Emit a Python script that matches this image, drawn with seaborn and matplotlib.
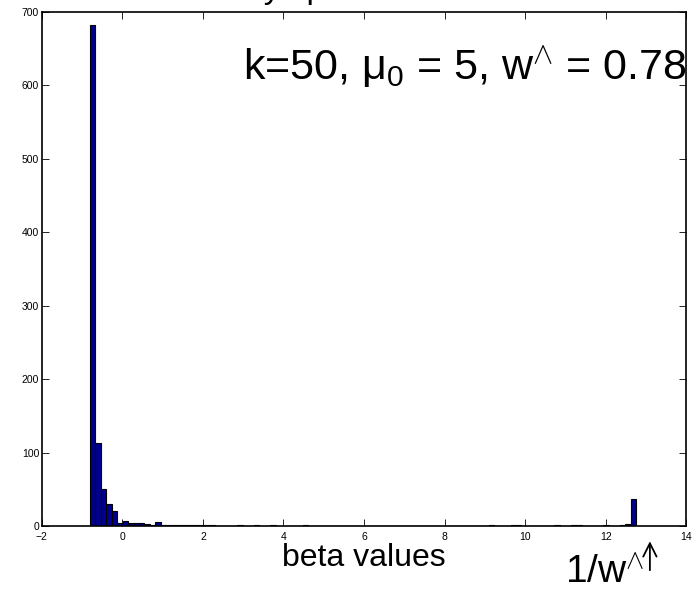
import numpy as np
import pandas as pd
import matplotlib
matplotlib.use('agg')
import seaborn as sns
import matplotlib.pyplot as plt

# histogram of sampled beta values: 100 bins between the min and max sample
beta_min = -0.81
beta_max = 12.76
counts = [682, 113, 51, 30, 20, 4, 7, 4, 4, 4,
          3, 1, 5, 2, 2, 1, 2, 1, 2, 1,
          1, 1, 1, 0, 0, 0, 0, 2, 0, 0,
          1, 0, 0, 1, 0, 0, 0, 0, 0, 1,
          0, 0, 0, 0, 0, 0, 0, 0, 0, 0,
          0, 0, 0, 0, 0, 0, 0, 0, 0, 0,
          0, 0, 0, 0, 0, 0, 0, 0, 0, 0,
          0, 0, 0, 1, 0, 0, 0, 1, 1, 0,
          0, 0, 0, 0, 0, 1, 0, 0, 1, 1,
          0, 0, 0, 0, 1, 0, 0, 1, 3, 37]

xticks = [-2, 0, 2, 4, 6, 8, 10, 12, 14]
yticks = [0, 100, 200, 300, 400, 500, 600, 700]

title_text = "Beta density sparse model"
annot_text = r"k=50, μ$_{0}$ = 5, w$^{\wedge}$ = 0.78"
xlabel_text = "beta values"
winv_text = r"1/w$^{\wedge}$"


def main(output):
	sns.set_style("ticks")
	plt.rcParams['font.family'] = ['Liberation Sans', 'DejaVu Sans']
	plt.rcParams['mathtext.fontset'] = 'custom'
	plt.rcParams['mathtext.rm'] = 'Liberation Sans'
	plt.rcParams['mathtext.it'] = 'Liberation Sans:italic'
	plt.rcParams['text.color'] = 'black'

	nbins = len(counts)
	width = (beta_max - beta_min) / nbins
	centers = beta_min + width * (np.arange(nbins) + 0.5)
	df = pd.DataFrame({"beta": centers, "count": counts})

	fig = plt.figure(figsize=(6.98, 5.89), dpi=100)
	ax = fig.add_axes([0.060, 0.107, 0.923, 0.873])

	sns.histplot(data=df, x="beta", weights="count", bins=nbins,
				binrange=(beta_min, beta_max), ax=ax,
				color="#00008f", edgecolor="black", linewidth=0.8, alpha=1)

	ax.set_xlim(-2, 14)
	ax.set_ylim(0, 700)
	ax.set_xticks(xticks)
	ax.set_yticks(yticks)
	ax.tick_params(direction="in", length=5, width=0.6, labelsize=7.5,
				top=True, right=True, colors="black", labelcolor="black")
	ax.tick_params(axis="x", pad=4)
	ax.tick_params(axis="y", pad=2)
	ax.set_ylabel("")
	ax.set_xlabel(xlabel_text, fontsize=23, labelpad=1, color="black")
	for s in ax.spines.values():
		s.set_linewidth(1.2)
		s.set_color("black")
		s.set_visible(True)

	# title mostly falls above the figure edge, as in the original
	fig.text(0.42, 1.003, title_text, fontsize=24, ha="center", va="baseline")

	ax.text(3.0, 607, annot_text, fontsize=31, color="black")
	ax.text(11.0, -78, winv_text, fontsize=28, clip_on=False, color="black")
	ax.annotate("", xy=(13.1, -17), xytext=(13.1, -64),
				arrowprops=dict(arrowstyle="->", lw=1.3, color="black",
								mutation_scale=24),
				annotation_clip=False)

	fig.savefig(output, dpi=100)


if __name__ == "__main__":
	main("out.png")
